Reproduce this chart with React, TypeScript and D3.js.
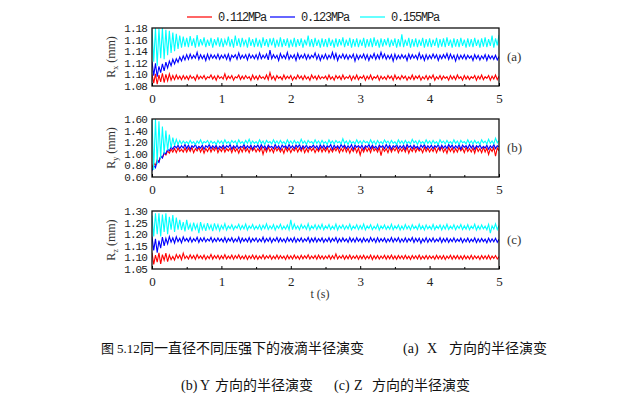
import React, { useEffect, useRef } from "react";
import * as d3 from "d3";

// sampling step of the recorded radius (s)
const T_STEP = 0.025;

const seriesNames = ["0.112MPa", "0.123MPa", "0.155MPa"];
const seriesColors = ["#ff0000", "#0000ff", "#00ffff"];
const xTicks = [0, 1, 2, 3, 4, 5];
const xMinorTicks = [0.5, 1.5, 2.5, 3.5, 4.5];

// (a) Rx
const rxTicks = [1.08, 1.1, 1.12, 1.14, 1.16, 1.18];
const rx112 = [
  1.100,1.085,1.101,1.083,1.099,1.087,1.102,1.086,1.100,1.089,1.101,1.090,1.098,1.091,1.099,1.092,1.097,1.091,1.098,1.092,
  1.097,1.091,1.098,1.093,1.096,1.090,1.099,1.092,1.097,1.093,1.098,1.091,1.096,1.094,1.099,1.092,1.097,1.090,1.098,1.093,
  1.096,1.092,1.101,1.091,1.097,1.093,1.098,1.090,1.096,1.094,1.099,1.091,1.097,1.092,1.098,1.093,1.096,1.090,1.099,1.092,
  1.097,1.091,1.098,1.093,1.096,1.092,1.099,1.091,1.103,1.092,1.097,1.090,1.098,1.093,1.096,1.091,1.099,1.092,1.097,1.093,
  1.098,1.090,1.096,1.092,1.099,1.093,1.097,1.091,1.098,1.092,1.096,1.090,1.099,1.093,1.097,1.091,1.098,1.092,1.096,1.093,
  1.097,1.091,1.099,1.092,1.096,1.090,1.098,1.093,1.097,1.091,1.099,1.092,1.096,1.093,1.098,1.090,1.097,1.092,1.099,1.091,
  1.096,1.093,1.098,1.090,1.097,1.092,1.099,1.091,1.096,1.093,1.098,1.090,1.097,1.092,1.096,1.091,1.098,1.093,1.097,1.090,
  1.099,1.092,1.096,1.091,1.098,1.093,1.097,1.090,1.096,1.092,1.099,1.091,1.097,1.093,1.098,1.090,1.096,1.092,1.098,1.091,
  1.097,1.093,1.099,1.090,1.096,1.092,1.098,1.091,1.097,1.093,1.096,1.090,1.098,1.092,1.097,1.091,1.099,1.093,1.096,1.090,
  1.098,1.092,1.097,1.091,1.096,1.093,1.098,1.090,1.097,1.092,1.099,1.091,1.096,1.093,1.098,1.090,1.097,1.092,1.099,1.091,
  1.097,
];
const rx123 = [
  1.122,1.098,1.119,1.096,1.114,1.103,1.118,1.106,1.121,1.111,1.123,1.115,1.126,1.118,1.127,1.121,1.130,1.123,1.132,1.125,
  1.134,1.126,1.135,1.127,1.133,1.128,1.138,1.126,1.134,1.127,1.133,1.124,1.135,1.126,1.134,1.128,1.133,1.127,1.135,1.126,
  1.133,1.128,1.134,1.126,1.135,1.124,1.133,1.129,1.134,1.126,1.137,1.127,1.133,1.128,1.134,1.125,1.135,1.128,1.133,1.127,
  1.134,1.126,1.137,1.127,1.133,1.128,1.135,1.125,1.142,1.127,1.134,1.128,1.133,1.124,1.136,1.128,1.133,1.127,1.138,1.126,
  1.133,1.128,1.134,1.124,1.136,1.127,1.133,1.128,1.135,1.126,1.134,1.127,1.133,1.129,1.137,1.126,1.134,1.124,1.133,1.127,
  1.135,1.126,1.133,1.128,1.138,1.127,1.136,1.124,1.133,1.128,1.135,1.127,1.134,1.126,1.133,1.128,1.135,1.123,1.134,1.126,
  1.133,1.128,1.135,1.126,1.134,1.124,1.133,1.128,1.136,1.126,1.134,1.127,1.138,1.128,1.135,1.126,1.133,1.127,1.134,1.123,
  1.135,1.126,1.133,1.127,1.134,1.128,1.133,1.124,1.135,1.127,1.134,1.128,1.133,1.126,1.137,1.127,1.133,1.124,1.134,1.126,
  1.133,1.127,1.135,1.128,1.134,1.124,1.133,1.127,1.134,1.128,1.136,1.126,1.135,1.127,1.133,1.123,1.134,1.126,1.133,1.127,
  1.134,1.126,1.133,1.128,1.132,1.124,1.134,1.127,1.133,1.125,1.132,1.127,1.134,1.124,1.133,1.127,1.132,1.126,1.133,1.125,
  1.131,
];
const rx155 = [
  1.178,1.122,1.180,1.115,1.179,1.128,1.180,1.126,1.177,1.133,1.175,1.137,1.172,1.140,1.170,1.144,1.167,1.146,1.165,1.148,
  1.163,1.147,1.166,1.149,1.162,1.146,1.168,1.148,1.161,1.150,1.164,1.147,1.160,1.149,1.163,1.146,1.161,1.150,1.164,1.148,
  1.162,1.147,1.160,1.150,1.165,1.148,1.161,1.146,1.167,1.149,1.162,1.147,1.163,1.150,1.160,1.146,1.164,1.149,1.161,1.147,
  1.163,1.148,1.160,1.146,1.164,1.149,1.161,1.147,1.162,1.150,1.163,1.146,1.160,1.148,1.164,1.147,1.161,1.149,1.162,1.146,
  1.160,1.148,1.163,1.147,1.161,1.149,1.162,1.146,1.160,1.150,1.167,1.148,1.161,1.147,1.163,1.149,1.160,1.146,1.162,1.148,
  1.161,1.147,1.163,1.149,1.160,1.146,1.162,1.148,1.161,1.150,1.164,1.147,1.160,1.149,1.163,1.146,1.161,1.148,1.162,1.147,
  1.160,1.149,1.163,1.146,1.161,1.148,1.162,1.147,1.164,1.149,1.160,1.146,1.162,1.148,1.161,1.150,1.163,1.147,1.160,1.149,
  1.162,1.146,1.161,1.148,1.169,1.147,1.160,1.149,1.163,1.146,1.161,1.148,1.162,1.147,1.160,1.149,1.163,1.146,1.161,1.148,
  1.162,1.147,1.160,1.149,1.163,1.146,1.161,1.148,1.162,1.147,1.164,1.149,1.160,1.146,1.162,1.148,1.161,1.147,1.163,1.149,
  1.160,1.146,1.162,1.148,1.161,1.147,1.163,1.149,1.160,1.146,1.162,1.148,1.164,1.147,1.161,1.149,1.167,1.146,1.162,1.150,
  1.168,
];

// (b) Ry
const ryTicks = [0.6, 0.8, 1.0, 1.2, 1.4, 1.6];
const ry112 = [
  0.76,0.84,0.80,0.90,0.87,0.96,0.93,1.01,0.98,1.05,1.01,1.08,1.03,1.09,1.02,1.10,1.04,1.08,1.03,1.10,
  1.03,1.10,1.04,1.11,1.02,1.09,1.05,1.11,1.03,1.10,1.01,1.09,1.04,1.11,1.03,1.10,1.05,1.12,1.02,1.09,
  1.04,1.11,1.03,1.09,1.05,1.10,1.02,1.11,1.04,1.09,1.01,1.10,1.03,1.12,1.04,1.09,1.02,1.11,1.05,1.10,
  1.03,1.09,1.04,1.11,0.99,1.10,1.03,1.12,1.04,1.09,1.02,1.11,1.05,1.10,1.03,1.09,1.01,1.11,1.04,1.10,
  1.02,1.09,1.05,1.11,1.03,1.10,1.04,1.12,1.02,1.09,1.03,1.11,1.05,1.10,1.02,1.09,1.04,1.11,1.03,1.10,
  1.04,1.11,1.02,1.09,1.03,1.10,1.05,1.11,1.02,1.09,1.04,1.12,1.03,1.10,1.01,1.09,1.04,1.11,1.02,1.10,
  0.98,1.09,1.03,1.11,1.04,1.10,1.02,1.12,1.05,1.09,1.03,1.11,0.97,1.10,1.04,1.09,1.02,1.11,1.03,1.10,
  1.05,1.11,1.02,1.09,1.04,1.10,1.03,1.12,1.01,1.09,1.04,1.11,1.03,1.10,1.05,1.09,1.02,1.11,1.04,1.10,
  1.03,1.09,1.04,1.11,1.02,1.10,1.05,1.12,1.03,1.09,1.01,1.11,1.04,1.10,1.02,1.09,1.03,1.11,1.05,1.10,
  1.02,1.11,1.04,1.09,1.03,1.10,1.01,1.12,1.04,1.09,1.02,1.11,1.03,1.10,0.99,1.09,1.04,1.11,0.96,1.10,
  1.05,
];
const ry123 = [
  0.70,0.80,0.76,0.88,0.85,0.96,0.93,1.02,1.00,1.08,1.05,1.12,1.08,1.14,1.10,1.15,1.09,1.14,1.10,1.16,
  1.09,1.15,1.08,1.14,1.11,1.16,1.09,1.13,1.10,1.15,1.08,1.14,1.11,1.16,1.09,1.14,1.10,1.15,1.08,1.13,
  1.10,1.15,1.09,1.14,1.11,1.16,1.08,1.14,1.10,1.15,1.09,1.13,1.11,1.16,1.09,1.14,1.10,1.15,1.08,1.14,
  1.11,1.15,1.09,1.16,1.10,1.14,1.08,1.15,1.11,1.13,1.09,1.16,1.10,1.14,1.08,1.15,1.11,1.14,1.09,1.16,
  1.10,1.14,1.09,1.15,1.11,1.16,1.08,1.14,1.10,1.15,1.09,1.13,1.11,1.15,1.10,1.14,1.08,1.16,1.10,1.15,
  1.09,1.14,1.11,1.16,1.08,1.15,1.10,1.14,1.09,1.16,1.11,1.15,1.09,1.14,1.10,1.16,1.08,1.15,1.11,1.14,
  1.10,1.15,1.08,1.14,1.11,1.16,1.09,1.15,1.10,1.13,1.08,1.15,1.11,1.14,1.09,1.16,1.10,1.15,1.08,1.14,
  1.11,1.16,1.09,1.14,1.10,1.15,1.08,1.16,1.11,1.14,1.09,1.15,1.10,1.13,1.08,1.15,1.11,1.16,1.09,1.14,
  1.10,1.15,1.09,1.14,1.11,1.16,1.08,1.15,1.10,1.14,1.09,1.16,1.11,1.15,1.09,1.14,1.10,1.16,1.08,1.15,
  1.11,1.14,1.09,1.16,1.10,1.15,1.08,1.14,1.11,1.15,1.09,1.13,1.10,1.15,1.08,1.14,1.10,1.16,1.09,1.14,
  1.12,
];
const ry155 = [
  1.60,0.72,1.60,0.82,1.56,0.92,1.47,1.00,1.40,1.06,1.33,1.10,1.28,1.14,1.25,1.16,1.23,1.17,1.22,1.18,
  1.21,1.17,1.23,1.18,1.21,1.16,1.22,1.18,1.24,1.17,1.21,1.19,1.23,1.17,1.22,1.18,1.21,1.16,1.23,1.18,
  1.22,1.17,1.24,1.18,1.21,1.17,1.23,1.19,1.22,1.16,1.24,1.18,1.21,1.17,1.23,1.18,1.25,1.17,1.22,1.18,
  1.21,1.17,1.24,1.18,1.22,1.16,1.23,1.19,1.21,1.17,1.24,1.18,1.22,1.17,1.23,1.18,1.21,1.16,1.24,1.18,
  1.22,1.17,1.23,1.18,1.21,1.17,1.25,1.18,1.22,1.16,1.23,1.19,1.21,1.17,1.24,1.18,1.22,1.17,1.23,1.18,
  1.21,1.16,1.24,1.18,1.22,1.17,1.23,1.19,1.21,1.17,1.26,1.18,1.22,1.16,1.23,1.18,1.21,1.17,1.24,1.18,
  1.22,1.17,1.23,1.19,1.21,1.17,1.24,1.18,1.22,1.16,1.23,1.18,1.21,1.17,1.24,1.19,1.22,1.17,1.23,1.18,
  1.21,1.16,1.24,1.18,1.22,1.17,1.23,1.18,1.21,1.17,1.25,1.19,1.22,1.16,1.23,1.18,1.21,1.17,1.24,1.18,
  1.22,1.17,1.23,1.18,1.21,1.16,1.24,1.19,1.22,1.17,1.23,1.18,1.21,1.17,1.24,1.18,1.22,1.16,1.23,1.19,
  1.21,1.17,1.24,1.18,1.22,1.17,1.23,1.18,1.21,1.16,1.24,1.19,1.22,1.17,1.25,1.18,1.22,1.17,1.27,1.19,
  1.23,
];

// (c) Rz
const rzTicks = [1.05, 1.1, 1.15, 1.2, 1.25, 1.3];
const rz112 = [
  1.120,1.070,1.110,1.080,1.120,1.072,1.112,1.088,1.118,1.082,1.110,1.090,1.104,1.089,1.112,1.096,1.110,1.090,1.118,1.095,
  1.106,1.093,1.111,1.095,1.108,1.092,1.112,1.096,1.107,1.094,1.110,1.091,1.106,1.095,1.113,1.093,1.108,1.096,1.109,1.092,
  1.107,1.094,1.112,1.093,1.106,1.095,1.110,1.092,1.108,1.096,1.111,1.093,1.106,1.094,1.109,1.091,1.107,1.095,1.110,1.093,
  1.108,1.092,1.106,1.095,1.111,1.093,1.107,1.096,1.109,1.092,1.106,1.094,1.110,1.093,1.108,1.095,1.106,1.091,1.109,1.094,
  1.107,1.093,1.110,1.095,1.106,1.092,1.109,1.094,1.107,1.096,1.111,1.093,1.106,1.095,1.108,1.092,1.110,1.094,1.107,1.093,
  1.106,1.095,1.109,1.092,1.107,1.094,1.115,1.093,1.106,1.096,1.109,1.092,1.107,1.094,1.110,1.093,1.106,1.095,1.108,1.092,
  1.107,1.094,1.109,1.093,1.106,1.095,1.110,1.091,1.107,1.094,1.108,1.093,1.106,1.095,1.109,1.092,1.107,1.094,1.110,1.093,
  1.106,1.092,1.108,1.095,1.107,1.093,1.109,1.094,1.106,1.091,1.108,1.095,1.107,1.093,1.110,1.092,1.106,1.094,1.108,1.093,
  1.107,1.095,1.106,1.092,1.109,1.094,1.107,1.093,1.108,1.091,1.106,1.095,1.109,1.092,1.107,1.094,1.108,1.093,1.106,1.092,
  1.108,1.094,1.106,1.093,1.109,1.092,1.107,1.095,1.106,1.091,1.108,1.094,1.107,1.093,1.109,1.092,1.106,1.095,1.108,1.093,
  1.104,
];
const rz123 = [
  1.190,1.130,1.180,1.120,1.172,1.140,1.188,1.150,1.182,1.158,1.190,1.166,1.184,1.162,1.189,1.168,1.182,1.163,1.188,1.170,
  1.182,1.168,1.186,1.166,1.181,1.170,1.187,1.165,1.183,1.169,1.185,1.167,1.180,1.171,1.186,1.166,1.182,1.168,1.184,1.170,
  1.181,1.167,1.186,1.165,1.182,1.170,1.185,1.166,1.180,1.168,1.187,1.164,1.183,1.169,1.181,1.167,1.186,1.165,1.182,1.170,
  1.184,1.166,1.180,1.168,1.187,1.165,1.182,1.169,1.185,1.164,1.181,1.170,1.186,1.166,1.183,1.168,1.180,1.165,1.185,1.169,
  1.182,1.167,1.186,1.165,1.181,1.169,1.184,1.166,1.180,1.170,1.186,1.164,1.182,1.168,1.185,1.166,1.181,1.169,1.184,1.165,
  1.180,1.168,1.185,1.166,1.182,1.170,1.186,1.164,1.181,1.167,1.184,1.169,1.180,1.165,1.186,1.168,1.182,1.166,1.185,1.169,
  1.181,1.165,1.184,1.168,1.180,1.166,1.186,1.169,1.182,1.164,1.185,1.167,1.181,1.169,1.183,1.165,1.180,1.168,1.186,1.166,
  1.182,1.169,1.185,1.165,1.180,1.167,1.184,1.166,1.181,1.170,1.186,1.164,1.182,1.168,1.183,1.161,1.180,1.167,1.185,1.165,
  1.181,1.168,1.184,1.166,1.179,1.169,1.185,1.164,1.181,1.167,1.183,1.165,1.180,1.168,1.184,1.166,1.179,1.169,1.183,1.164,
  1.180,1.167,1.183,1.165,1.179,1.168,1.184,1.164,1.180,1.166,1.182,1.168,1.179,1.163,1.183,1.166,1.180,1.167,1.182,1.165,
  1.178,
];
const rz155 = [
  1.280,1.190,1.290,1.200,1.290,1.190,1.285,1.210,1.290,1.200,1.275,1.220,1.282,1.210,1.272,1.220,1.262,1.218,1.252,1.212,
  1.262,1.220,1.244,1.212,1.250,1.222,1.243,1.205,1.252,1.220,1.241,1.214,1.248,1.222,1.240,1.213,1.247,1.221,1.242,1.215,
  1.238,1.222,1.245,1.218,1.236,1.224,1.241,1.219,1.235,1.226,1.243,1.220,1.237,1.223,1.244,1.218,1.236,1.225,1.242,1.221,
  1.235,1.222,1.240,1.219,1.238,1.224,1.245,1.220,1.236,1.223,1.241,1.218,1.237,1.225,1.243,1.221,1.235,1.222,1.240,1.219,
  1.262,1.220,1.244,1.223,1.236,1.219,1.242,1.225,1.237,1.221,1.245,1.218,1.236,1.224,1.241,1.220,1.238,1.223,1.243,1.219,
  1.236,1.224,1.242,1.220,1.235,1.222,1.244,1.218,1.237,1.225,1.240,1.221,1.236,1.223,1.243,1.219,1.235,1.224,1.241,1.220,
  1.237,1.222,1.244,1.219,1.236,1.225,1.241,1.220,1.234,1.223,1.242,1.218,1.236,1.224,1.240,1.221,1.235,1.222,1.243,1.219,
  1.236,1.224,1.240,1.218,1.235,1.221,1.242,1.223,1.236,1.219,1.241,1.224,1.235,1.220,1.243,1.222,1.236,1.218,1.240,1.223,
  1.235,1.221,1.242,1.219,1.236,1.224,1.240,1.218,1.237,1.222,1.243,1.220,1.235,1.223,1.241,1.219,1.236,1.225,1.242,1.220,
  1.236,1.222,1.241,1.219,1.235,1.224,1.243,1.218,1.236,1.221,1.240,1.223,1.235,1.219,1.242,1.205,1.236,1.222,1.245,1.220,
  1.238,
];

const panels = [
  { sub: "x", tag: "(a)", ticks: rxTicks, data: [rx112, rx123, rx155], top: 28 },
  { sub: "y", tag: "(b)", ticks: ryTicks, data: [ry112, ry123, ry155], top: 119 },
  { sub: "z", tag: "(c)", ticks: rzTicks, data: [rz112, rz123, rz155], top: 211 },
];

const MONO = "'Liberation Mono', monospace";
const SERIF = "'Liberation Serif', 'Noto Sans CJK SC', serif";

// caption pieces: [text, x, baseline, font size]
const captionParts: [string, number, number, number][] = [
  ["图", 101, 353, 13], ["5.12", 117, 353, 13], ["同一直径不同压强下的液滴半径演变", 140, 353, 14],
  ["(a)", 403, 353, 14], ["X", 427, 353, 14], ["方向的半径演变", 449, 353, 14],
  ["(b)", 181, 390, 14], ["Y", 200, 390, 14], ["方向的半径演变", 215, 390, 14],
  ["(c)", 334, 390, 14], ["Z", 354, 390, 14], ["方向的半径演变", 372, 390, 14],
];

export default function App() {
  const ref = useRef<SVGSVGElement>(null);

  useEffect(() => {
    const svg = d3.select(ref.current);
    svg.selectAll("*").remove();

    const left = 152, right = 499, ph = 58;
    const x = d3.scaleLinear().domain([0, 5]).range([left, right]);

    panels.forEach((p, pi) => {
      const y = d3.scaleLinear()
        .domain([p.ticks[0], p.ticks[p.ticks.length - 1]])
        .range([p.top + ph, p.top]);
      const g = svg.append("g");

      g.append("clipPath").attr("id", "clip" + pi)
        .append("rect").attr("x", left).attr("y", p.top).attr("width", right - left).attr("height", ph);

      const line = d3.line<number>()
        .x((d, i) => x(i * T_STEP))
        .y(d => y(d));

      p.data.forEach((s, si) => {
        g.append("path")
          .datum(s)
          .attr("clip-path", `url(#clip${pi})`)
          .attr("fill", "none")
          .attr("stroke", seriesColors[si])
          .attr("stroke-width", 1.1)
          .attr("d", line);
      });

      // frame
      g.append("rect")
        .attr("x", left).attr("y", p.top)
        .attr("width", right - left).attr("height", ph)
        .attr("fill", "none").attr("stroke", "#111").attr("stroke-width", 1.3);

      // bottom axis, ticks pointing in
      const xa = g.append("g").attr("transform", `translate(0,${p.top + ph})`)
        .call(d3.axisBottom(x).tickValues(xTicks).tickSizeInner(-3).tickSizeOuter(0).tickPadding(8).tickFormat(d3.format("d")));
      xa.select(".domain").remove();
      xa.selectAll("text").attr("font-family", SERIF).attr("font-size", 13).attr("fill", "#222");
      const xm = g.append("g").attr("transform", `translate(0,${p.top + ph})`)
        .call(d3.axisBottom(x).tickValues(xMinorTicks).tickSizeInner(-2).tickSizeOuter(0).tickFormat(() => ""));
      xm.select(".domain").remove();

      const ya = g.append("g").attr("transform", `translate(${left},0)`)
        .call(d3.axisLeft(y).tickValues(p.ticks).tickSize(0).tickPadding(5).tickFormat(d3.format(".2f")));
      ya.select(".domain").remove();
      ya.selectAll("text")
        .attr("font-family", MONO).attr("font-size", 11)
        .attr("letter-spacing", -0.9).attr("fill", "#222");

      // y title
      const yt = g.append("text")
        .attr("transform", `translate(115,${p.top + ph / 2}) rotate(-90)`)
        .attr("text-anchor", "middle")
        .attr("font-family", SERIF).attr("font-size", 12).attr("fill", "#333");
      yt.append("tspan").text("R");
      yt.append("tspan").attr("font-size", 8).attr("dy", 3).text(p.sub);
      yt.append("tspan").attr("dy", -3).text(" (mm)");

      g.append("text")
        .attr("x", 507).attr("y", p.top + ph / 2 + 4)
        .attr("font-family", SERIF).attr("font-size", 13).attr("fill", "#333")
        .text(p.tag);
    });

    svg.append("text")
      .attr("x", 320).attr("y", 298).attr("text-anchor", "middle")
      .attr("font-family", SERIF).attr("font-size", 12).attr("fill", "#333")
      .text("t (s)");

    // legend
    const legX = [187, 270, 360];
    const lg = svg.append("g");
    seriesNames.forEach((n, i) => {
      lg.append("line")
        .attr("x1", legX[i]).attr("x2", legX[i] + 25).attr("y1", 17).attr("y2", 17)
        .attr("stroke", seriesColors[i]).attr("stroke-width", 1.2);
      lg.append("text")
        .attr("x", legX[i] + 31).attr("y", 21)
        .attr("font-family", MONO).attr("font-size", 12).attr("letter-spacing", -1.2).attr("fill", "#222")
        .text(n);
    });

    // caption
    const cap = svg.append("g").attr("font-family", SERIF).attr("fill", "#111");
    captionParts.forEach(([t, cx, cy, fs]) => {
      cap.append("text").attr("x", cx).attr("y", cy).attr("font-size", fs).text(t);
    });
  }, []);

  return (
    <svg ref={ref} width={644} height={400}
      style={{ position: "absolute", left: 0, top: 0, background: "#fff" }} />
  );
}
